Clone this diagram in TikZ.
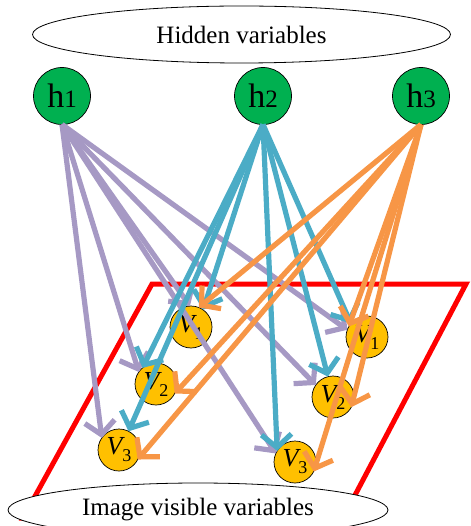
\documentclass[tikz,border=0pt]{standalone}
\usepackage{fontspec}
\setmainfont{Liberation Serif}
\newfontfamily\tmsfont{Liberation Serif}
\usetikzlibrary{shapes.geometric,arrows.meta}
\definecolor{hgreen}{RGB}{0,176,80}
\definecolor{vyellow}{RGB}{255,192,0}
\definecolor{cpurple}{RGB}{166,153,196}
\definecolor{cteal}{RGB}{75,172,198}
\definecolor{corange}{RGB}{247,150,70}
\newcommand\vlbl[1]{{\itshape V}\raisebox{-7pt}{\fontsize{18}{20}\selectfont #1}}
\newcommand\hlbl[1]{{\fontsize{34}{36}\selectfont h}{\fontsize{25}{28}\selectfont #1}}
\begin{document}
\begin{tikzpicture}[x=1pt,y=-1pt,
  hnode/.style={circle,draw=black,line width=0.7pt,fill=hgreen,minimum size=57pt,inner sep=0pt,outer sep=0pt,font=\tmsfont},
  vnode/.style={circle,draw=black,line width=0.7pt,fill=vyellow,minimum size=42pt,inner sep=0pt,outer sep=0pt,font=\tmsfont\fontsize{26}{28}\selectfont},
  groupell/.style={ellipse,draw=black,line width=0.8pt,fill=white,inner sep=0pt,font=\tmsfont\fontsize{25}{28}\selectfont},
  arr/.style={line width=5.2pt,-{Straight Barb[length=13pt,width=30pt]}},
  parr/.style={arr,draw=cpurple},
  tarr/.style={arr,draw=cteal},
  oarr/.style={arr,draw=corange},
  plane/.style={draw=red,line width=5pt,line join=miter}]
\useasboundingbox (0,0) rectangle (470,526);
\node[groupell,minimum width=418pt,minimum height=57pt] (hid) at (241.5,34.5) {Hidden variables};
\coordinate (p1) at (152,284);
\coordinate (p2) at (466,284);
\coordinate (p3) at (343,518);
\coordinate (p4) at (23,518);
\draw[plane] (p1) -- (p2) -- (p3) -- (p4) -- cycle;
\node[vnode] (lv1) at (191,327) {\vlbl{1}};
\node[vnode] (lv2) at (156,384) {\vlbl{2}};
\node[vnode] (lv3) at (119,450) {\vlbl{3}};
\node[vnode] (rv1) at (367,337) {\vlbl{1}};
\node[vnode] (rv2) at (333,397) {\vlbl{2}};
\node[vnode] (rv3) at (295,462) {\vlbl{3}};
\node[hnode] (h1) at (62,96) {\hlbl{1}};
\node[hnode] (h2) at (263,96) {\hlbl{2}};
\node[hnode] (h3) at (421,96) {\hlbl{3}};
\draw[parr] (h1.south) -- (lv1.93);
\draw[parr] (h1.south) -- (lv2.145);
\draw[parr] (h1.south) -- (lv3.145);
\draw[parr] (h1.south) -- (rv1.160);
\draw[parr] (h1.south) -- (rv2.145);
\draw[parr] (h1.south) -- (rv3.156);
\draw[tarr] (h2.south) -- (lv1.55);
\draw[tarr] (h2.south) -- (lv2.130);
\draw[tarr] (h2.south) -- (lv3.63);
\draw[tarr] (h2.south) -- (rv1.140);
\draw[tarr] (h2.south) -- (rv2.104);
\draw[tarr] (h2.south) -- (rv3.148);
\draw[oarr] (h3.south) -- (lv1.68);
\draw[oarr] (h3.south) -- (lv2.-27);
\draw[oarr] (h3.south) -- (lv3.-27);
\draw[oarr] (h3.south) -- (rv1.150);
\draw[oarr] (h3.south) -- (rv2.-29);
\draw[oarr] (h3.south) -- (rv3.-27);
\node[groupell,minimum width=380pt,minimum height=54pt] (vis) at (198,510) {Image visible variables};
\end{tikzpicture}
\end{document}
